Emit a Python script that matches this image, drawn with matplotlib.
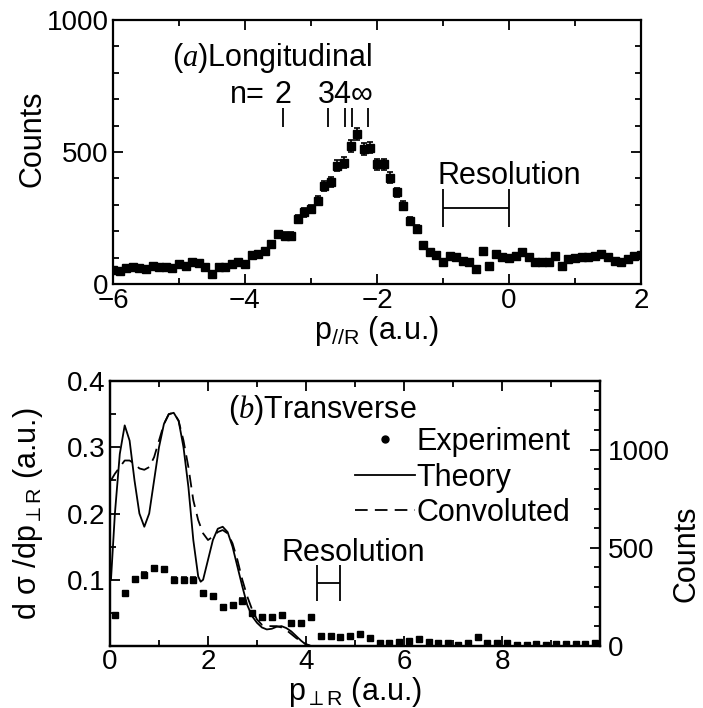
import numpy as np
import matplotlib
matplotlib.use("Agg")
import matplotlib.pyplot as plt
from matplotlib.lines import Line2D
from matplotlib.ticker import MultipleLocator

plt.rcParams['font.family'] = ['Liberation Sans', 'DejaVu Sans']
plt.rcParams['mathtext.default'] = 'regular'
plt.rcParams['mathtext.fontset'] = 'custom'
plt.rcParams['mathtext.rm'] = 'Liberation Sans'
plt.rcParams['mathtext.it'] = 'Liberation Serif:italic'

# ---------------- Panel (a) data ----------------
p_par = [-6.0, -5.9, -5.8, -5.7, -5.6, -5.5, -5.4, -5.3, -5.2, -5.1,
         -5.0, -4.9, -4.8, -4.7, -4.6, -4.5, -4.4, -4.3, -4.2, -4.1,
         -4.0, -3.9, -3.8, -3.7, -3.6, -3.5, -3.4, -3.3, -3.2, -3.1,
         -3.0, -2.9, -2.8, -2.7, -2.6, -2.5, -2.4, -2.3, -2.2, -2.1,
         -2.0, -1.9, -1.8, -1.7, -1.6, -1.5, -1.4, -1.3, -1.2, -1.1,
         -1.0, -0.9, -0.8, -0.7, -0.6, -0.5, -0.4, -0.3, -0.2, -0.1,
         0.0, 0.1, 0.2, 0.3, 0.4, 0.5, 0.6, 0.7, 0.8, 0.9,
         1.0, 1.1, 1.2, 1.3, 1.4, 1.5, 1.6, 1.7, 1.8, 1.9, 2.0]
counts_par = [54, 50, 59, 63, 60, 57, 69, 66, 63, 59,
              76, 69, 84, 80, 65, 38, 66, 63, 76, 82,
              76, 110, 112, 126, 150, 189, 183, 183, 246, 271,
              284, 315, 372, 387, 448, 460, 523, 567, 511, 517,
              454, 454, 403, 347, 296, 240, 208, 148, 120, 110,
              82, 107, 101, 88, 82, 57, 126, 69, 113, 101,
              97, 107, 120, 101, 82, 82, 82, 107, 69, 95,
              97, 101, 103, 107, 113, 101, 88, 82, 95, 105, 110]
err_par = [8, 8, 8, 8, 8, 8, 8, 8, 8, 8,
           9, 8, 9, 9, 8, 7, 8, 8, 9, 9,
           9, 10, 10, 11, 12, 13, 13, 13, 15, 16,
           16, 17, 19, 19, 21, 21, 22, 23, 22, 22,
           21, 21, 20, 18, 17, 15, 14, 12, 11, 10,
           9, 10, 10, 9, 9, 8, 11, 8, 10, 10,
           10, 10, 11, 10, 9, 9, 9, 10, 8, 9,
           9, 10, 10, 10, 10, 10, 9, 9, 9, 10, 10]

# Rydberg level markers (n = 2, 3, 4, 5, infinity)
n_pos = [-3.43, -2.75, -2.48, -2.38, -2.14]

# ---------------- Panel (b) data ----------------
p_perp_exp = [0.1, 0.3, 0.5, 0.7, 0.9, 1.1, 1.3, 1.5, 1.7, 1.9,
              2.1, 2.3, 2.5, 2.7, 2.9, 3.1, 3.3, 3.5, 3.7, 3.9,
              4.1, 4.3, 4.5, 4.7, 4.9, 5.1, 5.3, 5.5, 5.7, 5.9,
              6.1, 6.3, 6.5, 6.7, 6.9, 7.1, 7.3, 7.5, 7.7, 7.9,
              8.1, 8.3, 8.5, 8.7, 8.9, 9.1, 9.3, 9.5, 9.7, 9.9]
counts_perp = [158, 269, 340, 362, 396, 391, 336, 336, 336, 269,
               255, 200, 209, 231, 167, 146, 146, 158, 119, 119,
               146, 51, 51, 46, 51, 60, 40, 17, 17, 20,
               26, 34, 22, 17, 17, 5, 17, 46, 17, 17,
               17, 5, 5, 8, 5, 12, 8, 8, 12, 17]
err_perp = [10, 12, 13, 13, 14, 14, 13, 13, 13, 12,
            12, 11, 11, 11, 10, 9, 9, 10, 9, 9,
            9, 6, 6, 6, 6, 6, 5, 4, 4, 4,
            4, 5, 4, 4, 4, 3, 4, 6, 4, 4,
            4, 3, 3, 3, 3, 3, 3, 3, 3, 4]

p_theory = [0.02, 0.1, 0.2, 0.3, 0.4, 0.5, 0.6, 0.7, 0.8, 0.9,
            1.0, 1.1, 1.2, 1.3, 1.4, 1.5, 1.6, 1.7, 1.8, 1.85,
            1.9, 2.0, 2.1, 2.2, 2.3, 2.4, 2.5, 2.6, 2.7, 2.8,
            2.9, 3.0, 3.1, 3.2, 3.3, 3.4, 3.5, 3.6, 3.7, 3.8,
            3.9, 4.0, 4.1]
theory = [0.10, 0.20, 0.29, 0.333, 0.31, 0.25, 0.20, 0.18, 0.20, 0.25,
          0.30, 0.335, 0.350, 0.352, 0.34, 0.30, 0.24, 0.16, 0.105, 0.097,
          0.10, 0.13, 0.16, 0.177, 0.180, 0.172, 0.15, 0.12, 0.09, 0.062,
          0.045, 0.035, 0.028, 0.025, 0.026, 0.029, 0.030, 0.027, 0.022, 0.015,
          0.008, 0.002, 0.0]

p_conv = [0.02, 0.1, 0.2, 0.3, 0.4, 0.5, 0.6, 0.7, 0.8, 0.9,
          1.0, 1.1, 1.2, 1.3, 1.4, 1.5, 1.6, 1.7, 1.8, 1.9,
          2.0, 2.1, 2.2, 2.3, 2.4, 2.5, 2.6, 2.7, 2.8, 2.9,
          3.0, 3.1, 3.2, 3.3, 3.4, 3.5, 3.6, 3.7, 3.8, 3.9,
          4.0, 4.1]
convoluted = [0.25, 0.26, 0.27, 0.28, 0.28, 0.275, 0.268, 0.266, 0.27, 0.285,
              0.31, 0.335, 0.35, 0.352, 0.34, 0.31, 0.27, 0.22, 0.19, 0.17,
              0.16, 0.165, 0.172, 0.175, 0.17, 0.155, 0.13, 0.10, 0.075, 0.055,
              0.04, 0.032, 0.03, 0.03, 0.03, 0.028, 0.024, 0.018, 0.012, 0.007,
              0.003, 0.0]

res_a = (-1.0, 0.0, 288)
res_b = (4.22, 4.69, 0.095)

TFS = 20   # tick labels
FS = 22    # labels and annotations
fig = plt.figure(figsize=(7.03, 7.08), dpi=100)

def style_axis(ax, pad=3):
    for s in ax.spines.values():
        s.set_linewidth(1.6)
    ax.tick_params(which='both', direction='in', width=1.3, labelsize=TFS, pad=pad)
    ax.tick_params(which='major', length=7)
    ax.tick_params(which='minor', length=4)

# ---------------- Panel (a) ----------------
ax1 = fig.add_axes([113/703, 1-284/708, (641-113)/703, (284-20)/708])
ax1.errorbar(p_par, counts_par, yerr=err_par, fmt='s', color='black',
             ms=5.5, elinewidth=1.2, capsize=2.5, capthick=1.2)
ax1.set_xlim(-6, 2)
ax1.set_ylim(0, 1000)
ax1.xaxis.set_minor_locator(MultipleLocator(1))
ax1.yaxis.set_major_locator(MultipleLocator(500))
ax1.yaxis.set_minor_locator(MultipleLocator(100))
style_axis(ax1)
ax1.tick_params(which='both', top=True, right=True)
ax1.set_xticks([-6, -4, -2, 0, 2])
ax1.set_xticklabels(['\u22126', '\u22124', '\u22122', '0', '2'])
ax1.set_ylabel('Counts', fontsize=FS)
ax1.yaxis.set_label_coords(-0.125, 0.55)
ax1.set_xlabel('p$_{//R}$ (a.u.)', fontsize=FS, labelpad=0)

ax1.text(-5.1, 856, '($\\it{a}$)Longitudinal', fontsize=FS, va='center', ha='left')
ax1.vlines(n_pos, 595, 667, color='black', lw=1.3)
ax1.text(-3.70, 716, 'n=', fontsize=FS, ha='right', va='center')
ax1.text(n_pos[0], 716, '2', fontsize=FS, ha='center', va='center')
ax1.text(-2.89, 716, '34\u221e', fontsize=FS, ha='left', va='center')
ax1.text(-1.09, 409, 'Resolution', fontsize=FS, ha='left', va='center')
ax1.errorbar([(res_a[0] + res_a[1]) / 2], [res_a[2]], xerr=[(res_a[1] - res_a[0]) / 2],
             fmt='none', ecolor='black', elinewidth=1.3, capsize=14, capthick=1.3)

# ---------------- Panel (b) ----------------
ax2 = fig.add_axes([110/703, 1-646/708, (600-110)/703, (646-381)/708])
ax2.plot(p_theory, theory, '-', color='black', lw=1.3)
ax2.plot(p_conv, convoluted, color='black', lw=1.3, dashes=(7, 4))
ax2.set_xlim(0, 10)
ax2.set_ylim(0, 0.4)
ax2.xaxis.set_minor_locator(MultipleLocator(1))
ax2.yaxis.set_minor_locator(MultipleLocator(0.05))
ax2.set_yticks([0.1, 0.2, 0.3, 0.4])
ax2.set_yticklabels(['0.1', '0.2', '0.3', '0.4'])
ax2.set_xticks([0, 2, 4, 6, 8, 10])
ax2.set_xticklabels(['0', '2', '4', '6', '8', ''])
style_axis(ax2)
ax2.tick_params(axis='x', which='both', top=True, pad=2)
ax2.set_xlabel('p$_{\\perp R}$ (a.u.)', fontsize=FS, labelpad=0)
ax2.set_ylabel('d \u03c3 /dp$_{\\perp R}$ (a.u.)', fontsize=FS)
ax2.yaxis.set_label_coords(-0.133, 0.5)

ax3 = ax2.twinx()
ax3.errorbar(p_perp_exp, counts_perp, yerr=err_perp, fmt='s', color='black',
             ms=5, elinewidth=1.1, capsize=2.5, capthick=1.1)
ax3.set_ylim(0, 1350)
ax3.yaxis.set_major_locator(MultipleLocator(500))
ax3.yaxis.set_minor_locator(MultipleLocator(100))
style_axis(ax3, pad=6)
ax3.set_ylabel('Counts', fontsize=FS)
ax3.yaxis.set_label_coords(1.145, 0.35)

ax2.text(2.41, 0.356, '($\\it{b}$)Transverse', fontsize=FS, ha='left', va='center')
ax2.text(3.5, 0.14, 'Resolution', fontsize=FS, ha='left', va='center')
ax2.errorbar([(res_b[0] + res_b[1]) / 2], [res_b[2]], xerr=[(res_b[1] - res_b[0]) / 2],
             fmt='none', ecolor='black', elinewidth=1.3, capsize=13, capthick=1.3)

handles = [Line2D([], [], marker='o', ls='none', color='black', ms=5),
           Line2D([], [], ls='-', color='black', lw=1.3),
           Line2D([], [], ls=(0, (7, 4)), color='black', lw=1.3)]
leg = ax2.legend(handles, ['Experiment', 'Theory', 'Convoluted'], loc='upper left',
                 bbox_to_anchor=(0.5, 0.826), frameon=False, fontsize=FS,
                 handlelength=1.95, handletextpad=0.05, labelspacing=0.18,
                 borderpad=0, borderaxespad=0)

fig.savefig('out.png', dpi=100)
